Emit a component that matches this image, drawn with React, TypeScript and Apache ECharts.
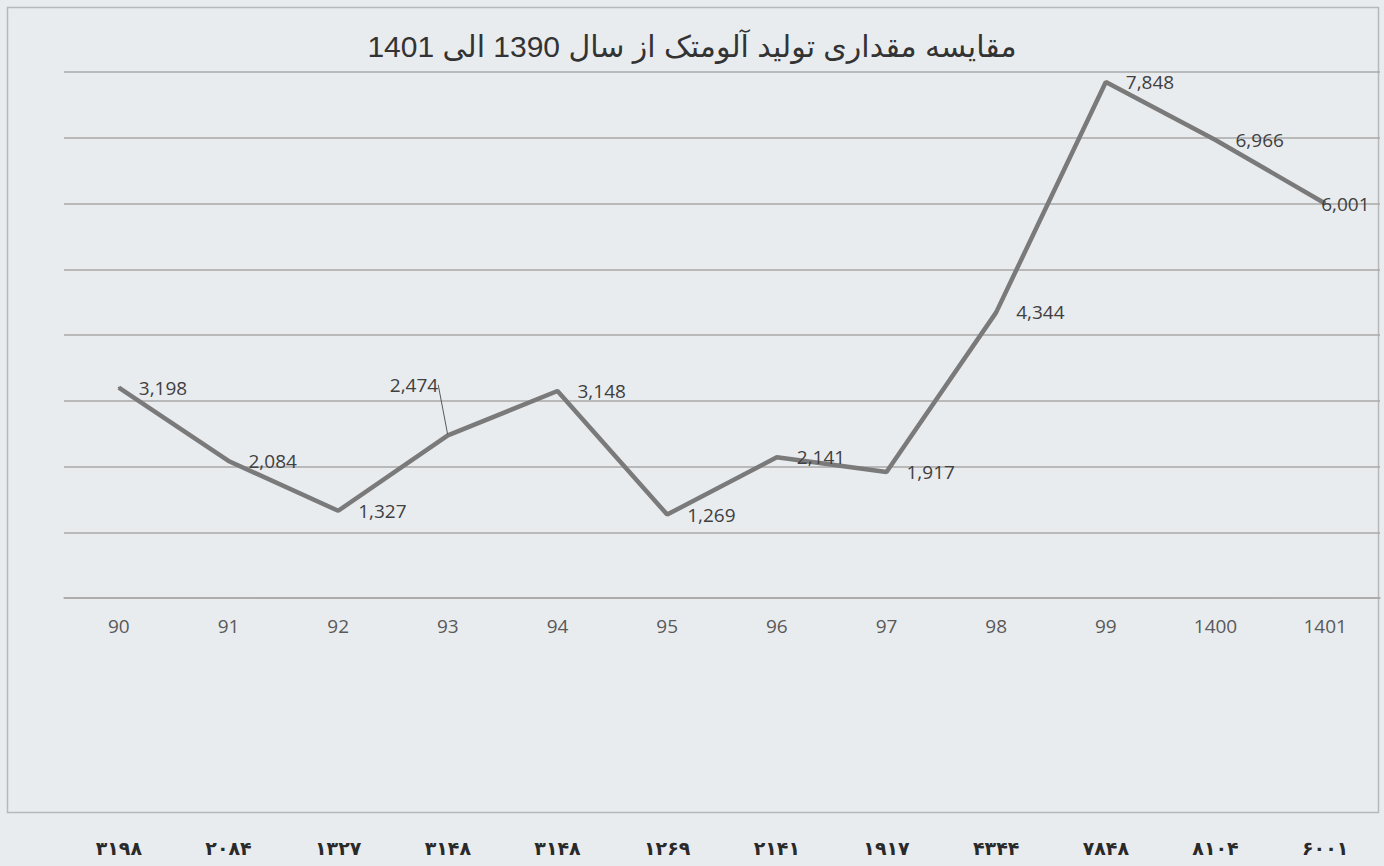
import React, { useEffect, useRef } from "react";
import * as echarts from "echarts";

const TITLE = "مقایسه مقداری تولید آلومتک از سال 1390 الی 1401";
const categories = ["90", "91", "92", "93", "94", "95", "96", "97", "98", "99", "1400", "1401"];
const values = [3198, 2084, 1327, 2474, 3148, 1269, 2141, 1917, 4344, 7848, 6966, 6001];
const bottomRow = ["۳۱۹۸", "۲۰۸۴", "۱۳۲۷", "۳۱۴۸", "۳۱۴۸", "۱۲۶۹", "۲۱۴۱", "۱۹۱۷", "۴۳۴۴", "۷۸۴۸", "۸۱۰۴", "۶۰۰۱"];
const yMin = 0;
const yMax = 8000;
const yInterval = 1000;

export default function App() {
  const ref = useRef<HTMLDivElement>(null);
  useEffect(() => {
    document.body.style.margin = "0";
    document.body.style.background = "#e9ecef";
    const chart = echarts.init(ref.current!, null, { renderer: "svg" });
    const seriesData = values.map((v, i) => {
      if (i === 3) {
        return {
          value: v,
          label: { position: [-57, -59] },
          labelLine: { show: true, lineStyle: { color: "#595959", width: 1 } },
        };
      }
      if (i === values.length - 1) {
        return { value: v, label: { offset: [-24, 1] } };
      }
      return v;
    });
    chart.setOption({
      animation: false,
      backgroundColor: "#e9ecef",
      title: {
        text: "\u202B" + TITLE + "\u202C",
        left: "center",
        top: 26,
        textStyle: {
          fontFamily: "'Liberation Sans', 'DejaVu Sans', sans-serif",
          fontSize: 30,
          fontWeight: "normal",
          color: "#333333",
        },
      },
      graphic: [
        {
          type: "rect",
          shape: { x: 7.5, y: 7.5, width: 1371, height: 805 },
          style: { fill: "none", stroke: "#b8b8b8", lineWidth: 1.5 },
          silent: true,
        },
      ],
      grid: { left: 64, right: 4, top: 72, bottom: 268, containLabel: false },
      xAxis: [
        {
          type: "category",
          data: categories,
          boundaryGap: true,
          axisLine: { show: true, lineStyle: { color: "#a9a9a9", width: 1.5 } },
          axisTick: { show: false },
          axisLabel: {
            margin: 18,
            fontFamily: "'Open Sans', sans-serif",
            fontSize: 19,
            color: "#595959",
          },
        },
        {
          type: "category",
          data: bottomRow,
          position: "bottom",
          offset: 232,
          boundaryGap: true,
          axisLine: { show: false },
          axisTick: { show: false },
          axisLabel: {
            margin: 8,
            fontFamily: "'DejaVu Sans', sans-serif",
            fontSize: 19,
            fontWeight: "bold",
            color: "#2a2a2a",
          },
        },
      ],
      yAxis: {
        type: "value",
        min: yMin,
        max: yMax,
        interval: yInterval,
        axisLine: { show: false },
        axisTick: { show: false },
        axisLabel: { show: false },
        splitLine: { show: true, lineStyle: { color: "#a9a9a9", width: 1.5 } },
      },
      series: [
        {
          type: "line",
          xAxisIndex: 0,
          data: seriesData,
          symbol: "circle",
          symbolSize: 2,
          itemStyle: { color: "#7a7a7a" },
          lineStyle: { color: "#7a7a7a", width: 4.5 },
          label: {
            show: true,
            position: "right",
            distance: 19,
            formatter: (p: any) => Number(p.value).toLocaleString("en-US"),
            fontFamily: "'Open Sans', sans-serif",
            fontSize: 19,
            color: "#404040",
          },
          labelLine: { show: false },
        },
      ],
    });
    return () => chart.dispose();
  }, []);
  return <div ref={ref} style={{ width: 1384, height: 866 }} />;
}
